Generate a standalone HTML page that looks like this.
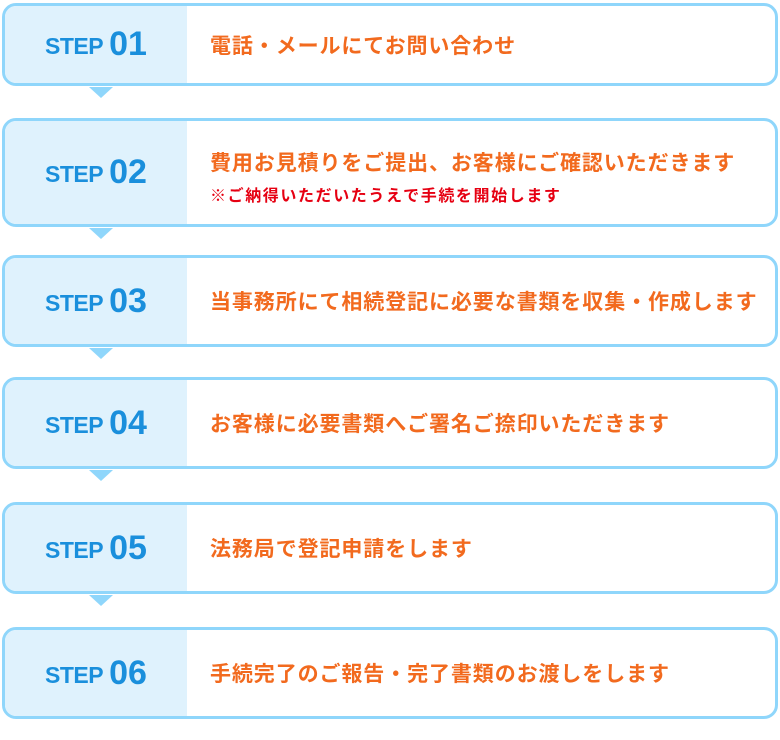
<!DOCTYPE html>
<html><head><meta charset="utf-8"><style>
body{margin:0;width:780px;height:740px;background:#fff;position:relative;font-family:"Liberation Sans","Noto Sans CJK JP",sans-serif;overflow:hidden}
.box{position:absolute;left:2px;width:770px;border:3.5px solid #8fd6fb;border-radius:14px;background:#fff;box-sizing:content-box;overflow:visible}
.l{position:absolute;left:0;top:0;bottom:0;width:182px;background:#dff2fd;border-radius:11px 0 0 11px;display:flex;align-items:center;justify-content:center;color:#1a8fdc;font-weight:bold}
.l .s{font-size:23px;margin-right:6px;position:relative;top:2px;letter-spacing:-0.5px}
.l .n{font-size:34px}
.t{position:absolute;left:205px;right:0;top:0;bottom:0;display:flex;flex-direction:column;justify-content:center;color:#f26a1e;font-weight:bold;font-size:21px;letter-spacing:0.9px}
.t .r{color:#e60012;font-size:16px;margin-top:5px;letter-spacing:1.6px}
.tri{position:absolute;left:89px;width:0;height:0;border-left:12px solid transparent;border-right:12px solid transparent;border-top:11px solid #8fd6fb}
</style></head><body>
<div class="box" style="top:3px;height:77px"><div class="l"><span class="s">STEP</span><span class="n">01</span></div><div class="t">電話・メールにてお問い合わせ</div></div>
<div class="tri" style="top:87px"></div>
<div class="box" style="top:118px;height:103px"><div class="l"><span class="s">STEP</span><span class="n">02</span></div><div class="t"><div style="margin-top:8px">費用お見積りをご提出、お客様にご確認いただきます</div><div class="r">※ご納得いただいたうえで手続を開始します</div></div></div>
<div class="tri" style="top:228px"></div>
<div class="box" style="top:255px;height:86px"><div class="l"><span class="s">STEP</span><span class="n">03</span></div><div class="t">当事務所にて相続登記に必要な書類を収集・作成します</div></div>
<div class="tri" style="top:348px"></div>
<div class="box" style="top:377px;height:86px"><div class="l"><span class="s">STEP</span><span class="n">04</span></div><div class="t">お客様に必要書類へご署名ご捺印いただきます</div></div>
<div class="tri" style="top:470px"></div>
<div class="box" style="top:502px;height:86px"><div class="l"><span class="s">STEP</span><span class="n">05</span></div><div class="t">法務局で登記申請をします</div></div>
<div class="tri" style="top:595px"></div>
<div class="box" style="top:627px;height:86px"><div class="l"><span class="s">STEP</span><span class="n">06</span></div><div class="t">手続完了のご報告・完了書類のお渡しをします</div></div>
</body></html>
